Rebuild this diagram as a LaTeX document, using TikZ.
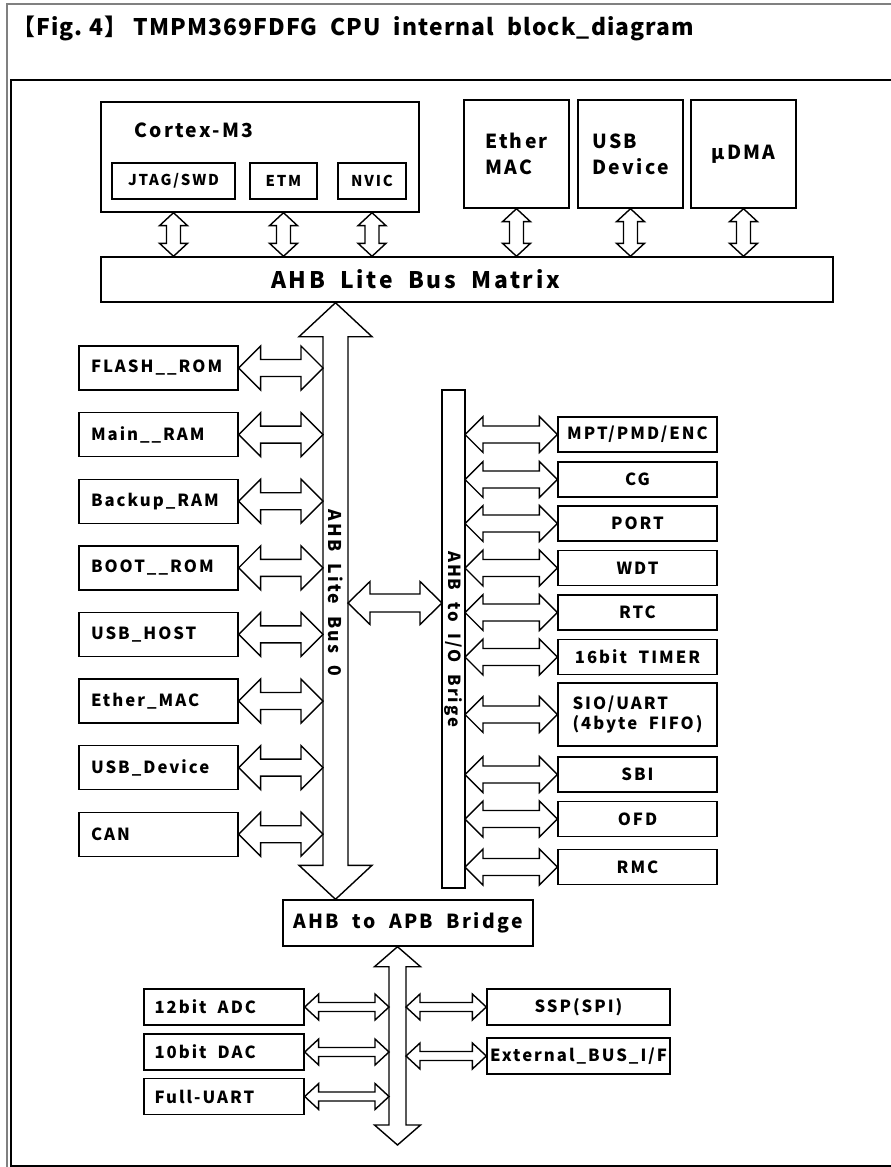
\documentclass[tikz,border=0pt]{standalone}
\usepackage{fontspec}
\setmainfont{Noto Sans CJK JP}
\newfontfamily\boxfont{Noto Sans CJK JP}[LetterSpace=12]
\newfontfamily\titlefont{Noto Sans CJK JP}[LetterSpace=5]
\usetikzlibrary{calc, positioning}

% block double arrows: from, to, half shaft, half head, head length
\newcommand\hbus[5]{%
  \coordinate (hb-a) at (#1); \coordinate (hb-b) at (#2);
  \draw[busarr] (hb-a) -- ($(hb-a)+(#5,-#4)$) -- ($(hb-a)+(#5,-#3)$) -- ($(hb-b)+(-#5,-#3)$)
    -- ($(hb-b)+(-#5,-#4)$) -- (hb-b) -- ($(hb-b)+(-#5,#4)$) -- ($(hb-b)+(-#5,#3)$)
    -- ($(hb-a)+(#5,#3)$) -- ($(hb-a)+(#5,#4)$) -- cycle;}
\newcommand\vbus[5]{%
  \coordinate (vb-a) at (#1); \coordinate (vb-b) at (#2);
  \draw[busarr] (vb-a) -- ($(vb-a)+(#4,#5)$) -- ($(vb-a)+(#3,#5)$) -- ($(vb-b)+(#3,-#5)$)
    -- ($(vb-b)+(#4,-#5)$) -- (vb-b) -- ($(vb-b)+(-#4,-#5)$) -- ($(vb-b)+(-#3,-#5)$)
    -- ($(vb-a)+(-#3,#5)$) -- ($(vb-a)+(-#4,#5)$) -- cycle;}

\begin{document}
\begin{tikzpicture}[x=0.02cm, y=-0.02cm,
    box/.style={draw, line width=0.8pt, inner sep=0pt, align=center,
      font=\boxfont\bfseries\fontsize{9.5}{11}\selectfont},
    topbox/.style={box, minimum width=2.1cm, minimum height=2.16cm,
      font=\boxfont\bfseries\fontsize{11}{15}\selectfont, align=left},
    subbox/.style={box, minimum height=0.72cm, font=\boxfont\bfseries\fontsize{8.5}{10}\selectfont},
    lbox/.style={box, text width=2.7cm, inner xsep=0.24cm, minimum height=0.88cm, align=left},
    rbox/.style={box, minimum width=3.18cm, minimum height=0.7cm},
    abox/.style={box, text width=2.78cm, inner xsep=0.21cm, minimum height=0.72cm, align=left},
    bbox/.style={box, minimum width=3.66cm, minimum height=0.72cm},
    bustext/.style={rotate=-90, font=\boxfont\bfseries\fontsize{10}{11}\selectfont},
    busarr/.style={draw, fill=white, line width=0.8pt, line join=miter}
  ]
  \useasboundingbox (0,0) rectangle (890,1167);
  % frames
  \draw[gray, line width=0.6pt] (7,1175) -- (7,4) -- (900,4);
  \draw[line width=1.2pt] (900,80) -- (11,80) -- (11,1166) -- (900,1166);
  \node[anchor=west, font=\titlefont\bfseries\fontsize{13}{15}\selectfont] (title) at (6,28)
    {【Fig.~4】 TMPM369FDFG\ \ CPU\ \ internal\ \ block\_diagram};

  % top row
  \node[box, minimum width=6.36cm, minimum height=2.2cm] (cortex) at (260,157) {};
  \node[anchor=west, font=\boxfont\bfseries\fontsize{11}{13}\selectfont] (cortexlbl) at (128,130) {Cortex-M3};
  \node[subbox, minimum width=2.46cm] (jtag) at (173.5,181) {JTAG/SWD};
  \node[subbox, minimum width=1.34cm] (etm) at (283.5,181) {ETM};
  \node[subbox, minimum width=1.36cm] (nvic) at (372,181) {NVIC};
  \node[topbox] (ether) at (516.5,154) {Ether\\MAC};
  \node[topbox] (usb) at (630.5,154) {USB\\Device};
  \node[topbox] (dma) at (743.5,154) {μDMA};
  \node[box, text width=7.84cm, inner xsep=3.4cm, minimum height=0.9cm, align=left,
    font=\boxfont\bfseries\fontsize{13}{15}\selectfont] (matrix) at (467,279.5) {AHB\ \ Lite\ \ Bus\ \ Matrix};
  \foreach \n in {jtag, etm, nvic}{
    \vbus{cortex.south -| \n}{matrix.north -| \n}{7}{14}{13}
  }
  \foreach \n in {ether, usb, dma}{
    \vbus{\n.south -| \n}{matrix.north -| \n}{7}{14}{13}
  }

  % AHB Lite Bus 0
  \node[box, minimum width=5cm, minimum height=0.92cm,
    font=\boxfont\bfseries\fontsize{11}{13}\selectfont] (apb) at (408,923) {AHB\ \ to\ \ APB\ \ Bridge};
  \coordinate (b0l) at (323,0);
  \coordinate (b0r) at (348,0);
  \coordinate (b0c) at (335.5,0);
  \vbus{matrix.south -| b0c}{apb.north -| b0c}{12.5}{36.5}{34}
  \node[bustext] (b0lbl) at (335.5,593) {AHB\ \ Lite\ \ Bus\ \ 0};

  \foreach \n/\t [count=\i from 0] in {flash/FLASH\_\_ROM, mainram/Main\_\_RAM,
      backup/Backup\_RAM, boot/BOOT\_\_ROM, usbhost/USB\_HOST, ethmac/Ether\_MAC,
      usbdev/USB\_Device, can/CAN} {
    \node[lbox] (\n) at (158.5,368+66.6*\i) {\t};
    \hbus{\n.east}{\n.east -| b0l}{8.5}{22}{22}
  }

  % AHB to I/O bridge
  \node[box, rotate=-90, minimum width=9.96cm, minimum height=0.46cm,
    font=\boxfont\bfseries\fontsize{9.5}{10}\selectfont] (iobr) at (453.5,639) {AHB\ \ to\ \ I/O\ \ Brige};
  \coordinate (iol) at (442,0);
  \coordinate (ior) at (465,0);
  \coordinate (midarr) at (0,603);
  \hbus{midarr -| b0r}{midarr -| iol}{9}{21.5}{22}

  \foreach \n/\y/\t in {mpt/434.5/{MPT/PMD/ENC}, cg/479.5/CG, port/523.5/PORT,
      wdt/568/WDT, rtc/612.5/RTC, timer/657/16bit\ \ TIMER, sbi/774.5/SBI,
      ofd/819/OFD, rmc/867/RMC} {
    \node[rbox] (\n) at (637.5,\y) {\t};
    \hbus{\n.west -| ior}{\n.west}{8.5}{18}{18}
  }
  \node[rbox, minimum height=1.26cm, align=left] (sio) at (637.5,714.5) {SIO/UART\\(4byte\ \ FIFO)};
  \hbus{sio.west -| ior}{sio.west}{8.5}{18}{18}

  % APB
  \coordinate (apbl) at (389,0);
  \coordinate (apbr) at (406,0);
  \coordinate (apbend) at (397.5,1145);
  \vbus{apb.south -| apbend}{apbend}{8.5}{23}{20}
  \node[abox] (adc) at (224,1007) {12bit\ \ ADC};
  \node[abox] (dac) at (224,1052) {10bit\ \ DAC};
  \node[abox] (uart) at (224,1096.5) {Full-UART};
  \node[bbox] (ssp) at (578.5,1007) {SSP(SPI)};
  \node[bbox] (ext) at (578.5,1056) {External\_BUS\_I/F};
  \foreach \n in {adc, dac, uart}{
    \hbus{\n.east}{\n.east -| apbl}{4.5}{13}{14}
  }
  \foreach \n in {ssp, ext}{
    \hbus{\n.west -| apbr}{\n.west}{4.5}{13}{14}
  }
\end{tikzpicture}
\end{document}
